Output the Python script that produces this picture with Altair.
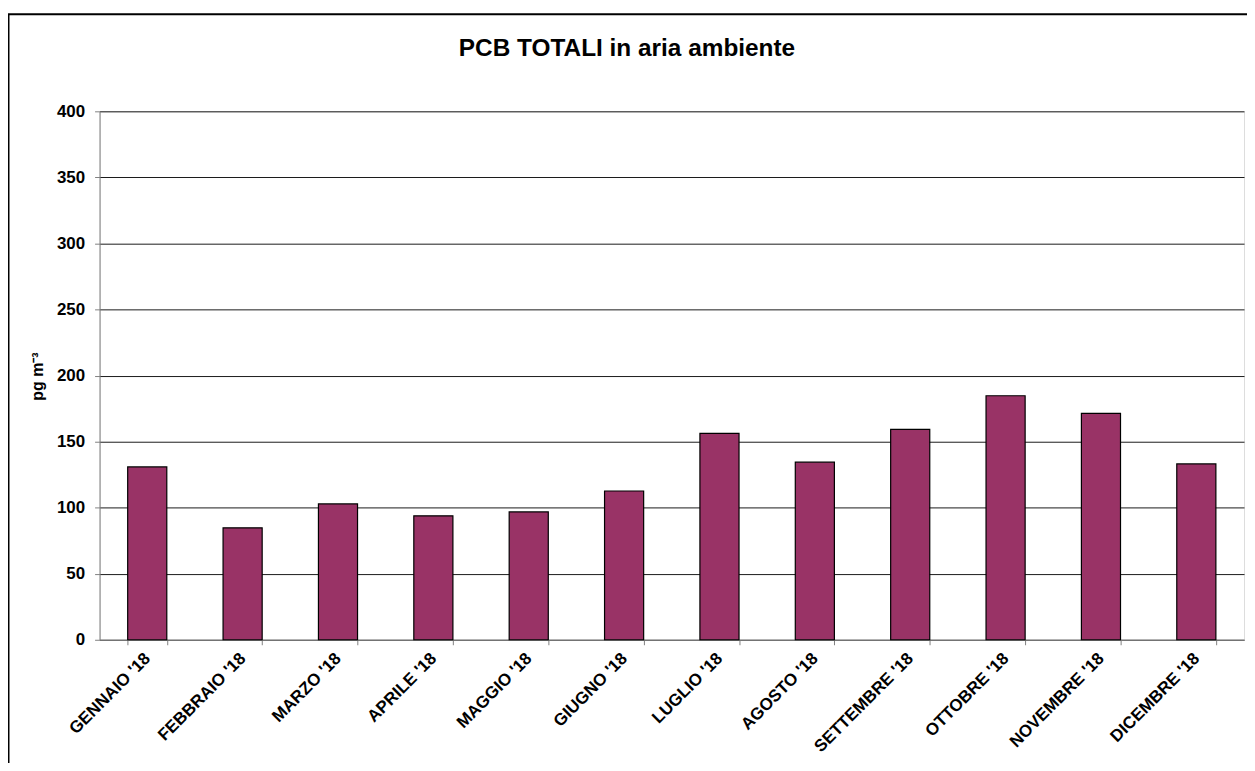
import altair as alt
import pandas as pd

months = ["GENNAIO '18", "FEBBRAIO '18", "MARZO '18", "APRILE '18", "MAGGIO '18",
          "GIUGNO '18", "LUGLIO '18", "AGOSTO '18", "SETTEMBRE '18", "OTTOBRE '18",
          "NOVEMBRE '18", "DICEMBRE '18"]
values = [130.8, 84.7, 102.8, 93.8, 96.8, 112.6, 156.2, 134.4, 159.2, 184.7, 171.4, 133.1]
title_text = "PCB TOTALI in aria ambiente"

df = pd.DataFrame({"mese": months, "pcb": values})

FONT = "Liberation Sans"

bars = alt.Chart(df).mark_bar(color="#993366", stroke="#000000", strokeWidth=1.2).encode(
    x=alt.X("mese:N", sort=months,
            scale=alt.Scale(paddingInner=0.59, paddingOuter=0.295),
            axis=alt.Axis(title=None, labelAngle=-45, labelAlign="right", labelBaseline="middle",
                          labelFont=FONT, labelFontSize=17, labelFontWeight="bold", labelColor="#000",
                          labelPadding=11, labelLimit=300,
                          tickBand="extent", tickSize=5, tickColor="#808080",
                          domainColor="#808080", grid=False)),
    y=alt.Y("pcb:Q", scale=alt.Scale(domain=[0, 400], nice=False),
            axis=alt.Axis(title="pg m\u207b\u00b3", values=[0, 50, 100, 150, 200, 250, 300, 350, 400],
                          labelFont=FONT, labelFontSize=17, labelFontWeight="bold", labelColor="#000",
                          labelPadding=10, tickSize=5, tickColor="#808080",
                          domainColor="#808080", gridColor="#1a1a1a", gridWidth=1,
                          titleFont=FONT, titleFontSize=16, titleFontWeight="bold", titleColor="#000",
                          titleAngle=-90, titleX=-62, titleY=266, titleAlign="center",
                          titleBaseline="middle")),
)

frame_data = alt.Data(values=[{"k": 1}])
left_line = alt.Chart(frame_data).mark_rule(color="#000", strokeWidth=2).encode(
    x=alt.value(-91.5), y=alt.value(-97.5), y2=alt.value(700))
top_line = alt.Chart(frame_data).mark_rule(color="#000", strokeWidth=2).encode(
    x=alt.value(-92.5), x2=alt.value(1200), y=alt.value(-97.5))
title = alt.Chart(alt.Data(values=[{"t": title_text}])).mark_text(
    font=FONT, fontSize=24.5, fontWeight="bold", color="#000", align="center", baseline="alphabetic"
).encode(text="t:N", x=alt.value(530), y=alt.value(-56))

chart = alt.layer(bars, left_line, top_line, title).properties(
    width=1150, height=531,
    autosize=alt.AutoSizeParams(type="none"),
    padding={"left": 92, "top": 102, "right": 3, "bottom": 122},
).configure_view(stroke="#808080", strokeWidth=1).configure(background="white")

chart.save("out.html", embed_options={"renderer": "svg", "actions": False})
